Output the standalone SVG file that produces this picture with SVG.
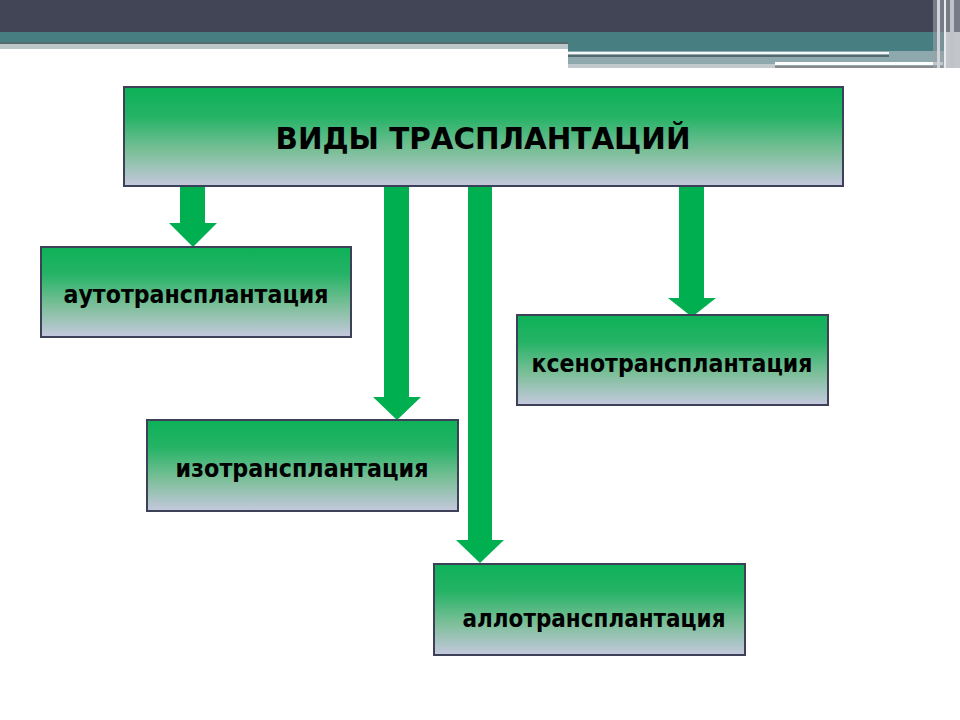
<svg xmlns="http://www.w3.org/2000/svg" width="960" height="720" viewBox="0 0 960 720">
<defs>
<linearGradient id="g" x1="0" y1="0" x2="0" y2="1">
<stop offset="0" stop-color="#0db158"/>
<stop offset="0.3" stop-color="#25b366"/>
<stop offset="0.65" stop-color="#7cbf99"/>
<stop offset="1" stop-color="#c5c8de"/>
</linearGradient>
<style>
.box{fill:url(#g);stroke:#3d4158;stroke-width:2}
.lbl{font-family:"DejaVu Sans","Liberation Sans",sans-serif;font-weight:bold;font-size:24px;fill:#000;text-anchor:middle}
.ttl{font-family:"DejaVu Sans","Liberation Sans",sans-serif;font-weight:bold;font-size:31px;fill:#000;text-anchor:middle}
.arr{fill:#00b050}
</style>
</defs>
<rect width="960" height="720" fill="#ffffff"/>
<g id="header">
<rect x="0" y="0" width="960" height="32" fill="#424556"/>
<rect x="0" y="32" width="945" height="10" fill="#467e81"/>
<rect x="0" y="42" width="568" height="2" fill="#55696c"/>
<rect x="0" y="44" width="568" height="5" fill="#bcc6c8"/>
<rect x="568" y="42" width="377" height="9" fill="#467e81"/>
<rect x="568" y="51" width="377" height="17" fill="#8ea9ad"/>
<rect x="568" y="52" width="321" height="2" fill="#f4f8f8"/>
<rect x="568" y="55" width="321" height="2" fill="#55696c"/>
<rect x="775" y="62" width="168" height="3" fill="#ffffff"/>
<rect x="775" y="66" width="168" height="2" fill="#888888"/>
<rect x="568" y="64" width="207" height="4" fill="#c0cacc"/>
<rect x="933" y="0" width="27" height="68" fill="#9aa0a8" opacity="0.6"/>
<rect x="937" y="0" width="3" height="68" fill="#d0d4d8"/>
<rect x="944" y="0" width="2" height="68" fill="#e8eaec"/>
<rect x="950" y="0" width="4" height="68" fill="#bfc3c8"/>
</g>
<g id="connectors">
<polygon class="arr" points="180,186 205,186 205,223 217,223 193,247 169,223 180,223"/>
<polygon class="arr" points="384,186 409,186 409,397 421,397 397,420 373,397 384,397"/>
<polygon class="arr" points="468,186 492,186 492,540 504,540 480,563 456,540 468,540"/>
<polygon class="arr" points="679,186 704,186 704,298 716,298 692,317 668,298 679,298"/>
</g>
<g id="main">
<rect class="box" x="124" y="87" width="719" height="99"/>
<text class="ttl" x="483" y="149" textLength="415" lengthAdjust="spacingAndGlyphs">ВИДЫ ТРАСПЛАНТАЦИЙ</text>
</g>
<g id="auto">
<rect class="box" x="41" y="247" width="310" height="90"/>
<text class="lbl" x="196" y="303" textLength="265" lengthAdjust="spacingAndGlyphs">аутотрансплантация</text>
</g>
<g id="xeno">
<rect class="box" x="517" y="315" width="311" height="90"/>
<text class="lbl" x="672" y="372" textLength="281" lengthAdjust="spacingAndGlyphs">ксенотрансплантация</text>
</g>
<g id="iso">
<rect class="box" x="147" y="420" width="311" height="91"/>
<text class="lbl" x="302" y="477" textLength="253" lengthAdjust="spacingAndGlyphs">изотрансплантация</text>
</g>
<g id="allo">
<rect class="box" x="434" y="564" width="311" height="91"/>
<text class="lbl" x="594" y="627" textLength="263" lengthAdjust="spacingAndGlyphs">аллотрансплантация</text>
</g>
</svg>
